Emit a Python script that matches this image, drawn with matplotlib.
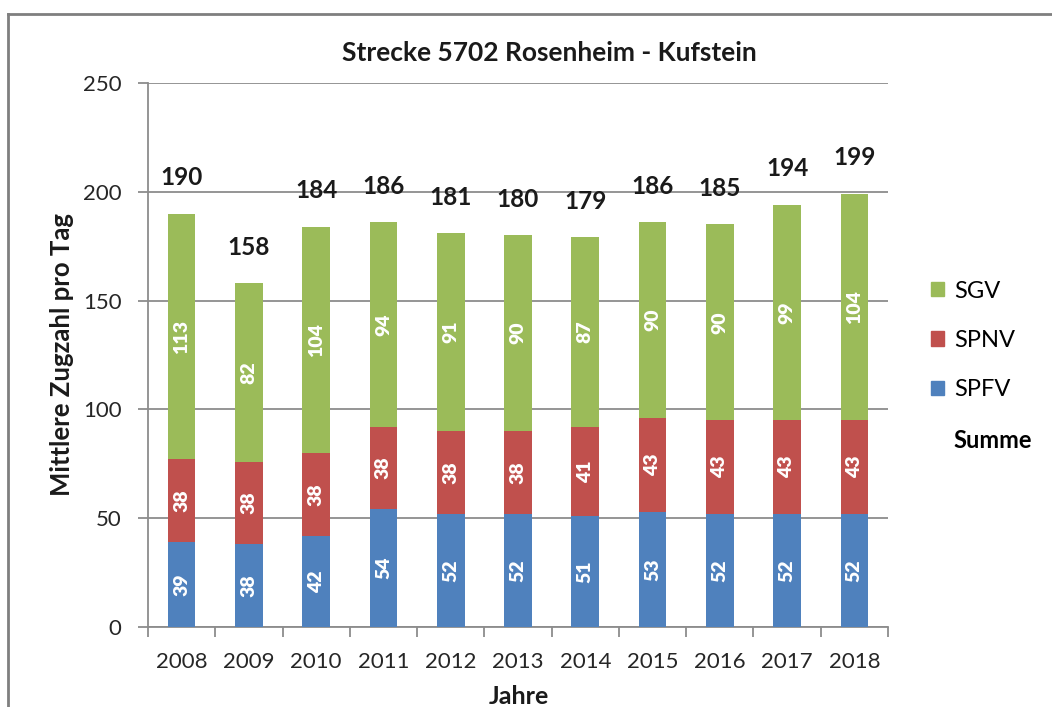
import matplotlib
matplotlib.use("Agg")
import matplotlib.pyplot as plt
from matplotlib.patches import Patch
from matplotlib.lines import Line2D
import numpy as np

plt.rcParams['font.family'] = ['Lato', 'DejaVu Sans']

years = ['2008', '2009', '2010', '2011', '2012', '2013', '2014', '2015', '2016', '2017', '2018']
spfv = [39, 38, 42, 54, 52, 52, 51, 53, 52, 52, 52]
spnv = [38, 38, 38, 38, 38, 38, 41, 43, 43, 43, 43]
sgv = [113, 82, 104, 94, 91, 90, 87, 90, 90, 99, 104]
summe = [190, 158, 184, 186, 181, 180, 179, 186, 185, 194, 199]

c_sgv = '#9BBB59'
c_spnv = '#C0504D'
c_spfv = '#4F81BD'
grid_c = '#8C8C8C'

fig = plt.figure(figsize=(10.52, 7.07), dpi=100)
ax = fig.add_axes([148/1052, 1-627/707, (888-148)/1052, (627-83)/707])

x = np.arange(len(years))
w = 0.41
b1 = ax.bar(x, spfv, w, color=c_spfv, zorder=3)
b2 = ax.bar(x, spnv, w, bottom=spfv, color=c_spnv, zorder=3)
bottom3 = np.array(spfv) + np.array(spnv)
b3 = ax.bar(x, sgv, w, bottom=bottom3, color=c_sgv, zorder=3)

for vals, bots in [(spfv, np.zeros(len(x))), (spnv, np.array(spfv)), (sgv, bottom3)]:
    for xi, v, b in zip(x, vals, bots):
        ax.text(xi, b + v/2, str(v), rotation=90, ha='center', va='center',
                color='white', fontsize=14, fontweight='heavy', zorder=4)

for xi, s in zip(x, summe):
    ax.annotate(str(s), (xi, s), xytext=(0, 26), textcoords='offset points',
                ha='center', va='center', fontsize=17.5, fontweight='bold', color='#1a1a1a')

ax.set_ylim(0, 250)
ax.set_xlim(-0.5, len(x) - 0.5)
ax.set_yticks(range(0, 251, 50))
ax.yaxis.grid(True, color=grid_c, linewidth=1.3, zorder=0)
ax.set_axisbelow(True)
for s in ['top', 'right']:
    ax.spines[s].set_visible(False)
for s in ['left', 'bottom']:
    ax.spines[s].set_color(grid_c)
    ax.spines[s].set_linewidth(1.3)

ax.set_xticks(x)
ax.set_xticklabels(years)
ax.set_xticks(np.arange(-0.5, len(x), 1), minor=True)
ax.tick_params(axis='x', which='major', length=0, pad=18, labelsize=16, colors='#262626')
ax.tick_params(axis='x', which='minor', length=7, width=1.3, color=grid_c)
ax.tick_params(axis='y', length=7, width=1.3, color=grid_c, pad=12, labelsize=16, labelcolor='#262626')

fig.text(62/1052, 1-355/707, 'Mittlere Zugzahl pro Tag', rotation=90, ha='center', va='center',
         fontsize=18.5, fontweight='bold', color='#1a1a1a')
fig.text(519/1052, 1-696/707, 'Jahre', ha='center', va='center',
         fontsize=18, fontweight='bold', color='#1a1a1a')
fig.text(549/1052, 1-53/707, 'Strecke 5702 Rosenheim - Kufstein', ha='center', va='center',
         fontsize=19, fontweight='bold', color='#1a1a1a')

handles = [Patch(color=c_sgv), Patch(color=c_spnv), Patch(color=c_spfv),
           Patch(facecolor='none', edgecolor='none')]
labels = ['SGV', 'SPNV', 'SPFV', 'Summe']
leg = fig.legend(handles, labels, loc='center left', bbox_to_anchor=(922/1052, 1-366/707),
                 frameon=False, fontsize=17, handlelength=0.55, handleheight=0.55,
                 handletextpad=0.4, labelspacing=1.2, borderaxespad=0)
leg.get_texts()[3].set_fontweight('bold')

# chart border
fig.add_artist(Line2D([8/1052, 8/1052], [0, 1-14/707], color='#7F7F7F', linewidth=2, transform=fig.transFigure))
fig.add_artist(Line2D([8/1052, 1], [1-14/707, 1-14/707], color='#7F7F7F', linewidth=2, transform=fig.transFigure))

fig.savefig('out.png', dpi=100)
